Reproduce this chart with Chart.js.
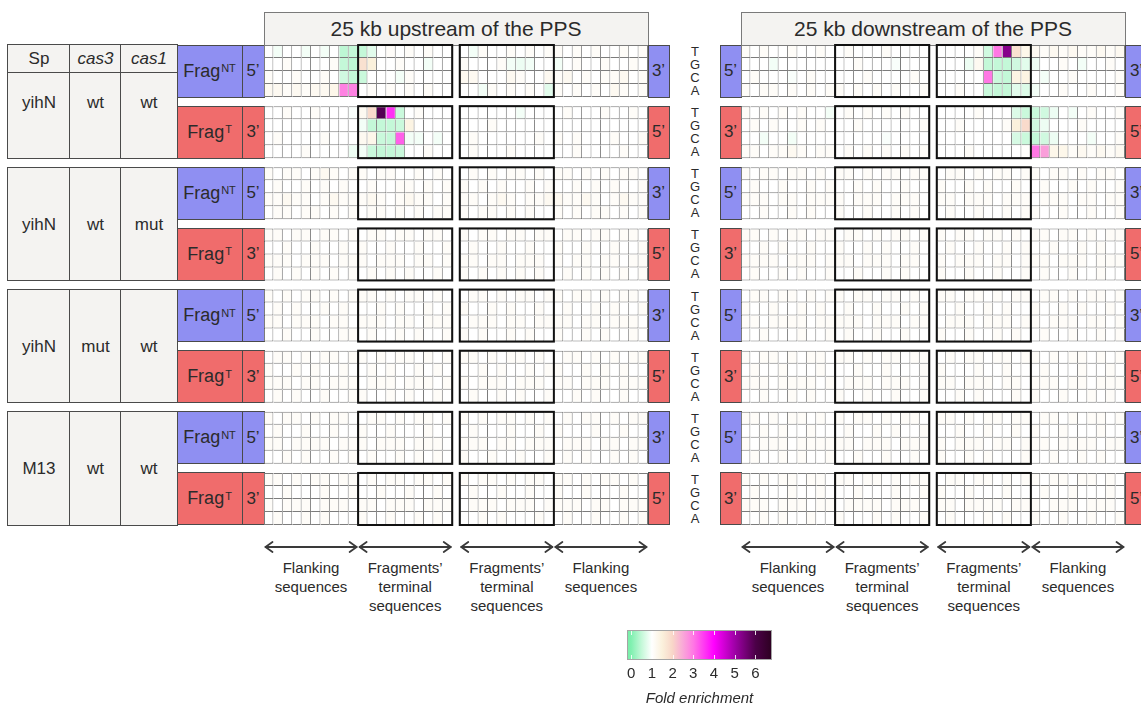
<!DOCTYPE html>
<html>
<head>
<meta charset="utf-8">
<title>Fold enrichment of spacer acquisition around the PPS</title>
<script src="https://cdn.jsdelivr.net/npm/chart.js@4.4.1/dist/chart.umd.min.js"></script>
<style>
  html, body { margin:0; padding:0; background:#fff; }
  body { width:1141px; height:705px; overflow:hidden; position:relative;
         font-family:'Liberation Sans', Arial, Helvetica, sans-serif; color:#2b2b2b; }
  .box { position:absolute; box-sizing:border-box; border-style:solid; border-color:#4a4a4a;
         display:flex; align-items:center; justify-content:center; white-space:nowrap; }
  .tbl { background:#f4f3f1; font-size:17px; }
  .nt { background:#8f8ff2; }
  .tt { background:#f06c6c; }
  .frag { font-size:18px; }
  .frag sup { font-size:11px; position:relative; top:-3px; vertical-align:top; margin-left:1px; }
  .end { font-size:17px; }
  .title { background:#f4f3f1; font-size:21px; border-color:#7a7a7a; }
  .txt { position:absolute; text-align:center; white-space:nowrap; }
  .nuc { font-size:13px; line-height:13px; width:16px; }
  .lab { font-size:15px; line-height:19px; }
  canvas { position:absolute; }
</style>
</head>
<body>
<div id="deco"></div>
<svg id="arrows" width="1141" height="705" style="position:absolute;left:0;top:0"></svg>
<canvas id="up" width="392" height="488" style="left:260px;top:41px"></canvas>
<canvas id="down" width="392" height="488" style="left:737px;top:41px"></canvas>
<canvas id="bar" width="175" height="80" style="left:612px;top:628px"></canvas>
<script>
// ---- labels ----
const panelTitles = ['25 kb upstream of the PPS', '25 kb downstream of the PPS'];
const nucleotides = ['T', 'G', 'C', 'A'];
const spLabels = ['yihN', 'yihN', 'yihN', 'M13'];
const cas3Labels = ['wt', 'wt', 'mut', 'wt'];
const cas1Labels = ['wt', 'mut', 'wt', 'wt'];
const headerLabels = ['Sp', 'cas3', 'cas1'];
const sectionLabels = [['Flanking', 'sequences'], ['Fragments’', 'terminal', 'sequences'],
                       ['Fragments’', 'terminal', 'sequences'], ['Flanking', 'sequences']];
const foldTicks = [0, 1, 2, 3, 4, 5, 6];

// ---- fold enrichment, 4 rows (T,G,C,A) x 40 positions per block ----
// positions 0-9 flanking, 10-19 and 20-29 fragment termini, 30-39 flanking
const up_yihN_wt_wt_NT = [
  [1.0,0.9,1.0,1.0,0.9,1.0,0.9,1.0,0.45,0.5, 0.5,0.75,1.0,1.1,1.0,1.1,1.0,1.1,1.0,1.0, 1.0,0.9,1.1,1.0,1.0,1.1,1.0,1.1,1.0,1.1, 1.1,1.0,1.1,1.0,1.1,1.0,1.0,1.1,1.0,1.1],
  [1.0,1.0,1.1,1.0,1.0,1.0,1.0,1.1,0.5,0.45, 1.8,1.5,1.0,1.0,1.1,1.0,1.0,0.9,1.0,1.0, 1.1,1.0,1.0,1.0,1.1,0.9,0.85,0.9,1.0,1.0, 0.9,1.0,1.1,1.0,1.0,1.1,1.0,1.0,1.1,1.0],
  [1.1,1.0,1.0,1.1,1.0,1.0,1.1,1.0,0.6,0.5, 0.55,1.0,1.0,1.0,0.9,1.1,1.0,1.0,1.0,1.0, 1.2,1.2,1.0,1.0,1.0,1.2,1.1,1.0,1.0,1.2, 1.1,1.2,1.0,1.1,1.0,1.1,1.1,1.2,1.0,1.1],
  [1.2,1.2,1.1,1.2,1.1,1.2,1.2,1.3,2.9,2.9, 1.0,1.1,1.0,1.1,1.0,1.1,1.0,1.1,1.0,1.0, 1.0,1.0,0.9,1.1,1.0,1.1,1.0,1.1,1.0,0.75, 1.1,1.0,1.1,1.0,1.1,1.0,1.2,1.1,1.0,1.1]
];
const up_yihN_wt_wt_T = [
  [1.0,1.0,1.1,1.0,1.0,1.1,1.0,1.0,1.0,0.95, 1.2,1.9,5.9,3.6,0.55,1.0,1.1,1.0,1.0,1.0, 1.0,1.0,1.0,1.0,1.0,1.0,0.9,1.0,1.0,1.0, 1.0,1.1,1.0,1.0,1.0,1.1,1.0,1.0,1.1,1.0],
  [1.0,1.0,1.0,1.0,1.0,1.0,1.0,1.0,1.0,1.0, 0.9,0.5,0.5,0.5,0.55,1.4,1.0,1.0,1.0,1.0, 1.0,1.0,1.0,1.1,1.0,1.0,1.0,1.0,1.0,1.0, 1.0,1.0,1.0,1.0,1.0,1.0,1.0,1.0,1.0,1.0],
  [1.0,1.1,1.0,1.0,1.0,1.0,1.1,1.0,1.0,1.0, 1.2,1.3,0.55,0.5,3.2,0.9,0.9,1.0,0.9,1.0, 1.0,1.1,1.0,1.0,1.0,1.0,1.0,1.0,1.1,1.0, 1.1,1.0,1.1,1.0,1.0,1.0,1.1,1.0,1.0,1.1],
  [1.0,1.0,1.0,1.0,1.1,1.0,1.0,1.0,1.0,0.85, 0.9,0.55,0.5,0.5,0.55,1.0,1.0,1.1,1.0,1.0, 1.0,1.1,1.0,1.0,1.0,1.1,1.0,1.0,1.0,1.0, 1.0,1.0,1.1,1.0,1.0,1.0,1.0,1.1,1.0,1.0]
];
const up_yihN_wt_mut_NT = [
  [1.1,1.0,1.1,1.1,1.0,1.1,1.2,1.1,1.0,1.1, 1.1,1.0,1.1,1.1,1.0,1.0,1.1,1.0,1.1,1.0, 1.0,1.1,1.0,1.1,1.0,1.1,1.1,1.0,1.1,1.0, 1.1,1.1,1.0,1.1,1.0,1.1,1.0,1.1,1.1,1.0],
  [1.0,1.1,1.0,1.0,1.1,1.0,1.1,1.0,1.1,1.0, 1.0,1.1,1.0,1.0,1.1,1.1,1.0,1.1,1.0,1.1, 1.1,1.0,1.1,1.0,1.1,1.0,1.0,1.1,1.0,1.1, 1.0,1.0,1.1,1.0,1.1,1.0,1.1,1.0,1.0,1.1],
  [1.1,1.1,1.2,1.1,1.1,1.0,1.1,1.2,1.1,1.1, 1.1,1.2,1.1,1.0,1.1,1.2,1.1,1.1,1.0,1.1, 1.1,1.1,1.0,1.1,1.2,1.1,1.0,1.1,1.1,1.2, 1.2,1.1,1.1,1.2,1.1,1.0,1.1,1.2,1.1,1.1],
  [1.0,1.1,1.1,1.0,1.1,1.1,1.0,1.1,1.0,1.1, 1.0,1.1,1.1,1.0,1.1,1.0,1.1,1.0,1.1,1.1, 1.1,1.0,1.1,1.1,1.0,1.1,1.0,1.1,1.0,1.0, 1.1,1.0,1.1,1.0,1.1,1.1,1.0,1.1,1.0,1.1]
];
const up_yihN_wt_mut_T = [
  [1.1,1.1,1.0,1.1,1.1,1.0,1.1,1.1,1.0,1.1, 1.0,1.1,1.1,1.0,1.1,1.1,1.0,1.1,1.1,1.0, 1.1,1.0,1.1,1.1,1.0,1.1,1.1,1.0,1.1,1.1, 1.0,1.1,1.1,1.0,1.1,1.1,1.0,1.1,1.1,1.0],
  [1.0,1.0,1.1,1.0,1.0,1.1,1.0,1.0,1.1,1.0, 1.1,1.0,1.0,1.1,1.0,1.0,1.1,1.0,1.0,1.1, 1.0,1.1,1.0,1.0,1.1,1.0,1.0,1.1,1.0,1.0, 1.1,1.0,1.0,1.1,1.0,1.0,1.1,1.0,1.0,1.1],
  [1.1,1.1,1.1,1.0,1.1,1.1,1.1,1.0,1.1,1.1, 1.1,1.0,1.1,1.1,1.1,1.0,1.1,1.1,1.0,1.1, 1.1,1.1,1.0,1.1,1.1,1.0,1.1,1.1,1.1,1.0, 1.1,1.0,1.1,1.1,1.0,1.1,1.1,1.0,1.1,1.1],
  [1.0,1.1,1.0,1.1,1.0,1.1,1.0,1.1,1.0,1.1, 1.0,1.1,1.0,1.1,1.0,1.1,1.0,1.0,1.1,1.0, 1.1,1.0,1.1,1.0,1.1,1.0,1.1,1.0,1.1,1.0, 1.0,1.1,1.0,1.1,1.0,1.1,1.0,1.1,1.0,1.1]
];
const up_yihN_mut_wt_NT = [
  [1.1,1.0,1.1,1.0,1.1,1.1,1.0,1.1,1.0,1.1, 1.1,1.1,1.0,1.1,1.0,1.1,1.1,1.0,1.1,1.0, 1.0,1.1,1.1,1.0,1.1,1.0,1.1,1.1,1.0,1.1, 1.1,1.0,1.1,1.1,1.0,1.1,1.0,1.1,1.1,1.0],
  [1.0,1.1,1.0,1.1,1.0,1.0,1.1,1.0,1.1,1.0, 1.0,1.0,1.1,1.0,1.1,1.0,1.0,1.1,1.0,1.1, 1.1,1.0,1.0,1.1,1.0,1.1,1.0,1.0,1.1,1.0, 1.0,1.1,1.0,1.0,1.1,1.0,1.1,1.0,1.0,1.1],
  [1.1,1.1,1.0,1.1,1.1,1.1,1.0,1.1,1.1,1.0, 1.1,1.1,1.1,1.0,1.1,1.1,1.0,1.1,1.1,1.1, 1.0,1.1,1.1,1.1,1.0,1.1,1.1,1.0,1.1,1.1, 1.1,1.1,1.0,1.1,1.1,1.0,1.1,1.1,1.1,1.0],
  [1.0,1.0,1.1,1.0,1.0,1.1,1.0,1.0,1.1,1.1, 1.0,1.1,1.0,1.0,1.1,1.0,1.1,1.0,1.0,1.1, 1.1,1.0,1.1,1.0,1.0,1.1,1.0,1.1,1.0,1.0, 1.1,1.0,1.0,1.1,1.0,1.1,1.0,1.0,1.1,1.0]
];
const up_yihN_mut_wt_T = [
  [1.0,1.1,1.1,1.0,1.1,1.0,1.1,1.1,1.0,1.1, 1.1,1.0,1.1,1.0,1.1,1.1,1.0,1.1,1.0,1.1, 1.1,1.1,1.0,1.1,1.0,1.1,1.1,1.0,1.1,1.0, 1.0,1.1,1.1,1.0,1.1,1.0,1.1,1.0,1.1,1.1],
  [1.1,1.0,1.0,1.1,1.0,1.1,1.0,1.0,1.1,1.0, 1.0,1.1,1.0,1.1,1.0,1.0,1.1,1.0,1.1,1.0, 1.0,1.0,1.1,1.0,1.1,1.0,1.0,1.1,1.0,1.1, 1.1,1.0,1.0,1.1,1.0,1.1,1.0,1.1,1.0,1.0],
  [1.1,1.1,1.1,1.0,1.1,1.1,1.0,1.1,1.1,1.1, 1.0,1.1,1.1,1.1,1.0,1.1,1.1,1.1,1.0,1.1, 1.1,1.0,1.1,1.1,1.1,1.0,1.1,1.1,1.1,1.0, 1.1,1.1,1.0,1.1,1.1,1.1,1.0,1.1,1.1,1.1],
  [1.0,1.1,1.0,1.1,1.0,1.0,1.1,1.0,1.0,1.1, 1.1,1.0,1.0,1.1,1.0,1.1,1.0,1.0,1.1,1.0, 1.0,1.1,1.0,1.0,1.1,1.0,1.1,1.0,1.0,1.1, 1.0,1.0,1.1,1.0,1.1,1.0,1.0,1.1,1.0,1.0]
];
const up_M13_wt_wt_NT = [
  [1.1,1.0,1.1,1.1,1.0,1.1,1.0,1.1,1.1,1.0, 1.0,1.1,1.1,1.0,1.1,1.0,1.1,1.1,1.0,1.1, 1.1,1.0,1.1,1.0,1.1,1.1,1.0,1.1,1.0,1.1, 1.0,1.1,1.0,1.1,1.1,1.0,1.1,1.0,1.1,1.1],
  [1.0,1.1,1.0,1.0,1.1,1.0,1.0,1.1,1.0,1.0, 1.1,1.0,1.0,1.1,1.0,1.0,1.0,1.1,1.0,1.0, 1.0,1.1,1.0,1.0,1.0,1.1,1.0,1.0,1.1,1.0, 1.1,1.0,1.0,1.0,1.1,1.0,1.0,1.1,1.0,1.0],
  [1.1,1.1,1.0,1.1,1.1,1.1,1.1,1.0,1.1,1.1, 1.1,1.0,1.1,1.1,1.1,1.0,1.1,1.1,1.1,1.0, 1.1,1.1,1.1,1.0,1.1,1.1,1.0,1.1,1.1,1.1, 1.0,1.1,1.1,1.1,1.0,1.1,1.1,1.0,1.1,1.1],
  [1.0,1.0,1.1,1.0,1.1,1.0,1.0,1.1,1.0,1.1, 1.0,1.1,1.0,1.0,1.1,1.0,1.1,1.0,1.1,1.0, 1.1,1.0,1.0,1.1,1.0,1.0,1.1,1.0,1.0,1.1, 1.0,1.1,1.0,1.1,1.0,1.0,1.1,1.0,1.1,1.0]
];
const up_M13_wt_wt_T = [
  [1.1,1.1,1.0,1.1,1.0,1.1,1.1,1.0,1.1,1.1, 1.0,1.1,1.0,1.1,1.1,1.0,1.1,1.1,1.0,1.1, 1.1,1.0,1.1,1.1,1.0,1.1,1.0,1.1,1.1,1.0, 1.1,1.1,1.0,1.1,1.0,1.1,1.1,1.0,1.1,1.0],
  [1.0,1.0,1.1,1.0,1.0,1.0,1.1,1.0,1.0,1.1, 1.0,1.0,1.1,1.0,1.0,1.1,1.0,1.0,1.1,1.0, 1.0,1.1,1.0,1.0,1.1,1.0,1.0,1.1,1.0,1.0, 1.1,1.0,1.0,1.1,1.0,1.0,1.0,1.1,1.0,1.0],
  [1.1,1.0,1.1,1.1,1.1,1.0,1.1,1.1,1.1,1.0, 1.1,1.1,1.0,1.1,1.1,1.1,1.0,1.1,1.1,1.1, 1.0,1.1,1.1,1.1,1.0,1.1,1.1,1.1,1.0,1.1, 1.1,1.1,1.1,1.0,1.1,1.1,1.0,1.1,1.1,1.1],
  [1.0,1.1,1.0,1.0,1.1,1.0,1.1,1.0,1.0,1.0, 1.1,1.0,1.0,1.1,1.0,1.0,1.1,1.0,1.1,1.0, 1.0,1.0,1.1,1.0,1.1,1.0,1.0,1.0,1.1,1.0, 1.0,1.1,1.0,1.0,1.1,1.0,1.0,1.1,1.0,1.1]
];

const dn_yihN_wt_wt_NT = [
  [1.1,1.0,1.1,1.0,1.0,1.1,1.0,1.0,1.1,1.0, 1.0,1.1,1.0,1.0,1.0,1.1,1.0,1.0,1.0,1.0, 1.0,1.0,1.0,1.0,1.1,0.6,3.0,5.3,1.8,1.3, 1.2,1.1,1.2,1.1,1.2,1.1,1.1,1.2,1.1,1.2],
  [1.0,1.0,1.0,0.9,1.0,1.0,1.0,1.0,1.0,1.0, 1.0,1.0,1.1,1.0,1.0,1.0,0.95,1.0,1.0,1.0, 1.0,1.0,1.0,0.85,1.2,0.5,0.5,0.5,0.6,0.75, 0.85,1.0,1.0,1.1,1.0,0.9,1.0,1.0,1.1,1.0],
  [1.0,1.1,1.0,1.0,1.0,0.95,1.0,1.1,1.0,1.0, 1.0,1.0,1.0,1.1,1.0,1.0,1.0,1.0,1.1,1.0, 1.0,1.0,1.0,1.0,1.0,3.0,0.55,0.5,1.4,1.4, 1.0,0.9,1.0,1.0,1.1,1.0,1.0,1.0,1.0,1.1],
  [1.1,1.0,1.1,1.1,1.0,1.1,1.0,1.1,1.0,1.1, 1.1,1.0,1.1,1.0,1.1,1.0,1.1,1.0,1.0,1.1, 1.0,1.0,1.1,1.0,1.0,0.55,0.5,0.5,0.75,0.7, 0.9,1.0,1.0,1.1,1.0,1.0,1.1,1.0,1.0,1.1]
];
const dn_yihN_wt_wt_T = [
  [1.1,1.0,1.1,1.0,1.1,1.0,1.1,1.0,1.0,0.9, 1.0,1.1,1.0,1.1,1.0,1.1,1.0,1.1,1.0,1.0, 1.0,1.0,1.0,1.0,1.1,1.0,1.0,1.0,0.7,0.55, 0.55,0.6,0.85,1.0,0.9,1.0,1.1,1.0,1.0,1.1],
  [1.0,1.1,1.0,1.1,1.0,1.0,1.1,1.0,1.1,1.0, 1.0,1.0,1.1,1.0,1.0,1.0,1.0,1.0,1.0,1.1, 1.0,1.0,1.1,1.0,1.0,1.0,1.0,1.1,1.5,1.9, 0.6,0.85,1.0,1.0,1.0,1.1,1.0,1.0,1.0,1.0],
  [1.0,1.0,0.9,1.0,1.0,0.9,1.0,1.0,1.0,1.0, 1.0,1.0,1.0,1.0,1.0,0.95,1.0,1.0,1.0,1.0, 1.0,1.0,1.0,1.0,1.0,1.0,1.0,1.0,0.65,0.55, 0.5,0.6,0.85,1.0,1.0,1.0,0.9,1.0,1.0,1.1],
  [1.1,1.1,1.0,1.1,1.1,1.2,1.1,1.0,1.1,1.1, 1.0,1.1,1.0,1.1,1.0,1.1,1.0,1.1,1.0,1.1, 1.0,1.0,1.0,1.1,1.0,1.0,1.0,1.0,1.0,1.05, 3.0,2.6,1.3,1.3,1.1,1.2,1.1,1.2,1.1,1.2]
];
const dn_yihN_wt_mut_NT = [
  [1.1,1.0,1.1,1.1,1.0,1.1,1.1,1.0,1.1,1.0, 1.1,1.1,1.0,1.1,1.0,1.1,1.1,1.0,1.1,1.1, 1.0,1.1,1.1,1.0,1.1,1.0,1.1,1.1,1.0,1.1, 1.1,1.0,1.1,1.1,1.0,1.1,1.0,1.1,1.1,1.0],
  [1.0,1.1,1.0,1.0,1.1,1.0,1.0,1.1,1.0,1.1, 1.0,1.0,1.1,1.0,1.1,1.0,1.0,1.1,1.0,1.0, 1.1,1.0,1.0,1.1,1.0,1.1,1.0,1.0,1.1,1.0, 1.0,1.1,1.0,1.0,1.1,1.0,1.1,1.0,1.0,1.1],
  [1.1,1.1,1.1,1.0,1.1,1.1,1.0,1.1,1.1,1.1, 1.1,1.0,1.1,1.1,1.1,1.0,1.1,1.1,1.1,1.0, 1.1,1.1,1.0,1.1,1.1,1.1,1.0,1.1,1.1,1.1, 1.0,1.1,1.1,1.1,1.0,1.1,1.1,1.0,1.1,1.1],
  [1.0,1.0,1.1,1.0,1.0,1.1,1.0,1.1,1.0,1.0, 1.1,1.0,1.0,1.1,1.0,1.0,1.1,1.0,1.1,1.0, 1.0,1.1,1.0,1.0,1.1,1.0,1.0,1.1,1.0,1.1, 1.1,1.0,1.0,1.1,1.0,1.0,1.1,1.0,1.0,1.1]
];
const dn_yihN_wt_mut_T = [
  [1.1,1.1,1.0,1.1,1.0,1.1,1.1,1.0,1.1,1.1, 1.0,1.1,1.1,1.0,1.1,1.0,1.1,1.1,1.0,1.1, 1.1,1.0,1.1,1.1,1.0,1.1,1.1,1.0,1.1,1.0, 1.1,1.1,1.0,1.1,1.1,1.0,1.1,1.0,1.1,1.1],
  [1.0,1.0,1.1,1.0,1.1,1.0,1.0,1.1,1.0,1.0, 1.1,1.0,1.0,1.1,1.0,1.1,1.0,1.0,1.1,1.0, 1.0,1.1,1.0,1.0,1.1,1.0,1.0,1.1,1.0,1.1, 1.0,1.0,1.1,1.0,1.0,1.1,1.0,1.1,1.0,1.0],
  [1.1,1.1,1.1,1.1,1.0,1.1,1.1,1.1,1.0,1.1, 1.1,1.1,1.0,1.1,1.1,1.1,1.0,1.1,1.1,1.0, 1.1,1.0,1.1,1.1,1.1,1.0,1.1,1.1,1.0,1.1, 1.1,1.1,1.0,1.1,1.1,1.1,1.0,1.1,1.1,1.1],
  [1.0,1.1,1.0,1.0,1.1,1.0,1.1,1.0,1.0,1.1, 1.0,1.0,1.1,1.0,1.0,1.1,1.0,1.1,1.0,1.0, 1.1,1.0,1.0,1.1,1.0,1.0,1.1,1.0,1.0,1.1, 1.0,1.1,1.0,1.0,1.1,1.0,1.0,1.1,1.0,1.0]
];
const dn_yihN_mut_wt_NT = [
  [1.0,1.1,1.1,1.0,1.1,1.1,1.0,1.1,1.0,1.1, 1.1,1.0,1.1,1.1,1.0,1.1,1.1,1.0,1.1,1.0, 1.1,1.1,1.0,1.1,1.1,1.0,1.1,1.0,1.1,1.1, 1.0,1.1,1.1,1.0,1.1,1.0,1.1,1.1,1.0,1.1],
  [1.1,1.0,1.0,1.1,1.0,1.0,1.1,1.0,1.1,1.0, 1.0,1.1,1.0,1.0,1.1,1.0,1.0,1.1,1.0,1.1, 1.0,1.0,1.1,1.0,1.0,1.1,1.0,1.1,1.0,1.0, 1.1,1.0,1.0,1.1,1.0,1.1,1.0,1.0,1.1,1.0],
  [1.1,1.1,1.0,1.1,1.1,1.1,1.1,1.0,1.1,1.1, 1.1,1.1,1.1,1.0,1.1,1.1,1.1,1.0,1.1,1.1, 1.0,1.1,1.1,1.1,1.0,1.1,1.1,1.1,1.0,1.1, 1.1,1.0,1.1,1.1,1.1,1.0,1.1,1.1,1.0,1.1],
  [1.0,1.0,1.1,1.0,1.0,1.0,1.1,1.0,1.0,1.1, 1.0,1.1,1.0,1.0,1.1,1.0,1.0,1.1,1.0,1.0, 1.1,1.0,1.0,1.1,1.0,1.0,1.1,1.0,1.1,1.0, 1.0,1.1,1.0,1.0,1.1,1.0,1.0,1.1,1.0,1.1]
];
const dn_yihN_mut_wt_T = [
  [1.1,1.0,1.1,1.1,1.0,1.1,1.0,1.1,1.1,1.0, 1.1,1.1,1.0,1.1,1.0,1.1,1.1,1.0,1.1,1.1, 1.0,1.1,1.0,1.1,1.1,1.0,1.1,1.1,1.0,1.1, 1.1,1.0,1.1,1.0,1.1,1.1,1.0,1.1,1.0,1.1],
  [1.0,1.1,1.0,1.0,1.1,1.0,1.0,1.0,1.1,1.0, 1.0,1.0,1.1,1.0,1.0,1.1,1.0,1.0,1.0,1.1, 1.1,1.0,1.0,1.0,1.1,1.0,1.0,1.1,1.0,1.0, 1.0,1.1,1.0,1.0,1.0,1.1,1.0,1.0,1.1,1.0],
  [1.1,1.1,1.1,1.0,1.1,1.1,1.1,1.1,1.0,1.1, 1.0,1.1,1.1,1.1,1.0,1.1,1.1,1.1,1.0,1.1, 1.1,1.1,1.0,1.1,1.1,1.1,1.0,1.1,1.1,1.0, 1.1,1.1,1.1,1.0,1.1,1.1,1.0,1.1,1.1,1.1],
  [1.0,1.0,1.1,1.0,1.0,1.1,1.0,1.1,1.0,1.0, 1.1,1.0,1.0,1.1,1.0,1.0,1.1,1.0,1.0,1.1, 1.0,1.0,1.1,1.0,1.1,1.0,1.0,1.0,1.1,1.0, 1.1,1.0,1.0,1.1,1.0,1.0,1.1,1.0,1.1,1.0]
];
const dn_M13_wt_wt_NT = [
  [1.1,1.1,1.0,1.1,1.0,1.1,1.1,1.0,1.1,1.0, 1.1,1.0,1.1,1.1,1.0,1.1,1.0,1.1,1.1,1.0, 1.1,1.1,1.0,1.1,1.0,1.1,1.1,1.0,1.1,1.1, 1.0,1.1,1.1,1.0,1.1,1.0,1.1,1.1,1.0,1.1],
  [1.0,1.0,1.1,1.0,1.1,1.0,1.0,1.1,1.0,1.0, 1.0,1.1,1.0,1.0,1.1,1.0,1.1,1.0,1.0,1.1, 1.0,1.0,1.1,1.0,1.0,1.1,1.0,1.0,1.1,1.0, 1.1,1.0,1.0,1.1,1.0,1.0,1.0,1.1,1.0,1.0],
  [1.1,1.0,1.1,1.1,1.1,1.0,1.1,1.1,1.1,1.1, 1.1,1.1,1.0,1.1,1.1,1.1,1.0,1.1,1.1,1.1, 1.1,1.0,1.1,1.1,1.1,1.0,1.1,1.1,1.0,1.1, 1.1,1.1,1.0,1.1,1.1,1.1,1.1,1.0,1.1,1.1],
  [1.0,1.1,1.0,1.0,1.1,1.0,1.1,1.0,1.0,1.1, 1.0,1.0,1.1,1.0,1.0,1.1,1.0,1.0,1.1,1.0, 1.1,1.0,1.0,1.1,1.0,1.1,1.0,1.0,1.0,1.1, 1.0,1.0,1.1,1.0,1.0,1.1,1.0,1.1,1.0,1.0]
];
const dn_M13_wt_wt_T = [
  [1.1,1.0,1.1,1.0,1.1,1.1,1.0,1.1,1.1,1.0, 1.1,1.1,1.0,1.1,1.1,1.0,1.1,1.0,1.1,1.1, 1.0,1.1,1.1,1.0,1.1,1.1,1.0,1.1,1.0,1.1, 1.1,1.0,1.1,1.1,1.0,1.1,1.1,1.0,1.1,1.0],
  [1.0,1.1,1.0,1.0,1.0,1.1,1.0,1.0,1.1,1.0, 1.0,1.0,1.1,1.0,1.0,1.0,1.1,1.0,1.0,1.1, 1.1,1.0,1.0,1.1,1.0,1.0,1.0,1.1,1.0,1.0, 1.0,1.1,1.0,1.0,1.1,1.0,1.0,1.0,1.1,1.0],
  [1.1,1.1,1.1,1.0,1.1,1.1,1.1,1.0,1.1,1.1, 1.0,1.1,1.1,1.1,1.1,1.0,1.1,1.1,1.1,1.0, 1.1,1.1,1.0,1.1,1.1,1.1,1.1,1.0,1.1,1.1, 1.1,1.0,1.1,1.1,1.1,1.0,1.1,1.1,1.1,1.0],
  [1.0,1.0,1.1,1.0,1.1,1.0,1.0,1.1,1.0,1.0, 1.1,1.0,1.0,1.0,1.1,1.0,1.1,1.0,1.0,1.1, 1.0,1.1,1.0,1.0,1.0,1.1,1.0,1.1,1.0,1.0, 1.1,1.0,1.0,1.1,1.0,1.0,1.1,1.0,1.0,1.1]
];

const upstreamBlocks = [up_yihN_wt_wt_NT, up_yihN_wt_wt_T, up_yihN_wt_mut_NT, up_yihN_wt_mut_T,
                        up_yihN_mut_wt_NT, up_yihN_mut_wt_T, up_M13_wt_wt_NT, up_M13_wt_wt_T];
const downstreamBlocks = [dn_yihN_wt_wt_NT, dn_yihN_wt_wt_T, dn_yihN_wt_mut_NT, dn_yihN_wt_mut_T,
                          dn_yihN_mut_wt_NT, dn_yihN_mut_wt_T, dn_M13_wt_wt_NT, dn_M13_wt_wt_T];

// ---- colour scale ----
const CBAR_MIN = -0.2, CBAR_MAX = 6.8;
const cmapStops  = [-0.2, 0, 0.5, 1, 1.5, 2, 2.5, 3, 4, 5, 6, 6.8];
const cmapColors = ['#78eea6', '#80f0b0', '#c4f8d8', '#ffffff', '#fbf1dc', '#f8d6c8',
                    '#f9a8d8', '#ff78e4', '#ff00ff', '#a000a8', '#4c0048', '#2c0020'];
function hexToRgb(h) { return [1, 3, 5].map(i => parseInt(h.slice(i, i + 2), 16)); }
function colorFor(v) {
  if (v <= cmapStops[0]) return cmapColors[0];
  for (let i = 1; i < cmapStops.length; i++) {
    if (v <= cmapStops[i]) {
      const t = (v - cmapStops[i - 1]) / (cmapStops[i] - cmapStops[i - 1]);
      const a = hexToRgb(cmapColors[i - 1]), b = hexToRgb(cmapColors[i]);
      return 'rgb(' + a.map((x, k) => Math.round(x + (b[k] - x) * t)).join(',') + ')';
    }
  }
  return cmapColors[cmapColors.length - 1];
}

// ---- layout ----
const FONT = "'Liberation Sans', Arial, sans-serif";
const AREA_TOP = 45, AREA_H = 480, PANEL_W = 384, PAD = 4;
const PANEL_LEFT = [264, 741];
const N_BLOCKS = 8, N_COLS = 40, BLOCK_GAP = 0.7, SECTION_GAP = 0.8;
const Y_UNITS = N_BLOCKS * 4 + (N_BLOCKS - 1) * BLOCK_GAP;
const X_UNITS = N_COLS + SECTION_GAP;
const rowPx = AREA_H / Y_UNITS, colPx = PANEL_W / X_UNITS;
const blockStart = b => b * (4 + BLOCK_GAP);
const colCenter = c => c + 0.5 + (c >= 20 ? SECTION_GAP : 0);
const sectionBounds = [[0, 10], [10, 20], [20 + SECTION_GAP, 30 + SECTION_GAP], [30 + SECTION_GAP, 40 + SECTION_GAP]];
const blockTopPx = b => AREA_TOP + blockStart(b) * rowPx;
const blockHPx = 4 * rowPx;

// ---- heatmap panels ----
const framePlugin = {
  id: 'terminalFrames',
  afterDatasetsDraw(chart) {
    const { ctx, scales: { x, y } } = chart;
    ctx.save();
    ctx.strokeStyle = '#111';
    ctx.lineWidth = 2;
    for (let b = 0; b < N_BLOCKS; b++) {
      [sectionBounds[1], sectionBounds[2]].forEach(([s, e]) => {
        const x0 = x.getPixelForValue(s), x1 = x.getPixelForValue(e);
        const y0 = y.getPixelForValue(blockStart(b)), y1 = y.getPixelForValue(blockStart(b) + 4);
        ctx.strokeRect(x0, y0, x1 - x0, y1 - y0);
      });
    }
    ctx.restore();
  }
};

function buildPanel(canvasId, blocks) {
  const datasets = [];
  blocks.forEach((block, b) => {
    block.forEach((row, r) => {
      datasets.push({
        label: 'block ' + b + ' ' + nucleotides[r],
        data: row.map((v, c) => ({ x: colCenter(c), y: [blockStart(b) + r, blockStart(b) + r + 1] })),
        backgroundColor: row.map(colorFor),
        borderColor: '#7c7c7c',
        borderWidth: ctx => ({
          top: r === 0 ? 1 : 0,
          left: (ctx.dataIndex === 0 || ctx.dataIndex === 20) ? 1 : 0,
          right: 1,
          bottom: 1
        })
      });
    });
  });
  return new Chart(document.getElementById(canvasId), {
    type: 'bar',
    data: { datasets },
    options: {
      responsive: false, animation: false, devicePixelRatio: 1, events: [],
      layout: { padding: PAD },
      datasets: { bar: { grouped: false, categoryPercentage: 1, barPercentage: 1, borderSkipped: false, inflateAmount: 0 } },
      scales: {
        x: { type: 'linear', min: 0, max: X_UNITS, offset: false, display: false,
             grid: { offset: false }, ticks: { stepSize: 1, includeBounds: false } },
        y: { type: 'linear', min: 0, max: Y_UNITS, reverse: true, offset: false, display: false }
      },
      plugins: { legend: { display: false }, tooltip: { enabled: false } }
    },
    plugins: [framePlugin]
  });
}
buildPanel('up', upstreamBlocks);
buildPanel('down', downstreamBlocks);

// ---- colour bar ----
const cbarTicksPlugin = {
  id: 'cbarTicks',
  afterDatasetsDraw(chart) {
    const { ctx, chartArea: a, scales: { x } } = chart;
    ctx.save();
    ctx.strokeStyle = 'rgba(255,255,255,0.85)';
    ctx.lineWidth = 1;
    foldTicks.forEach(v => {
      const px = Math.round(x.getPixelForValue(v)) + 0.5;
      ctx.beginPath();
      ctx.moveTo(px, a.top + 1); ctx.lineTo(px, a.top + 5);
      ctx.moveTo(px, a.bottom - 5); ctx.lineTo(px, a.bottom - 1);
      ctx.stroke();
    });
    ctx.restore();
  }
};
new Chart(document.getElementById('bar'), {
  type: 'bar',
  data: {
    labels: ['Fold enrichment'],
    datasets: [{
      data: [[CBAR_MIN, CBAR_MAX]],
      backgroundColor: ctx => {
        const { chart } = ctx;
        const a = chart.chartArea;
        if (!a) return '#fff';
        const g = chart.ctx.createLinearGradient(a.left, 0, a.right, 0);
        cmapStops.forEach((s, i) => g.addColorStop((s - CBAR_MIN) / (CBAR_MAX - CBAR_MIN), cmapColors[i]));
        return g;
      },
      borderColor: '#a5a5a5', borderWidth: 1, borderSkipped: false, inflateAmount: 0,
      barPercentage: 1, categoryPercentage: 1
    }]
  },
  options: {
    indexAxis: 'y', responsive: false, animation: false, devicePixelRatio: 1, events: [],
    layout: { padding: { left: 15, right: 15, top: 2, bottom: 0 } },
    scales: {
      x: {
        type: 'linear', min: CBAR_MIN, max: CBAR_MAX,
        afterBuildTicks: axis => { axis.ticks = foldTicks.map(v => ({ value: v })); },
        grid: { display: false, drawTicks: false }, border: { display: false },
        ticks: { padding: 5, color: '#2b2b2b', font: { size: 15, family: FONT } }
      },
      y: { display: false }
    },
    plugins: {
      legend: { display: false }, tooltip: { enabled: false },
      title: { display: true, position: 'bottom', text: 'Fold enrichment', color: '#2b2b2b',
               font: { size: 15, style: 'italic', weight: 'normal', family: FONT },
               padding: { top: 2, bottom: 0 } }
    }
  },
  plugins: [cbarTicksPlugin]
});

// ---- table, strand boxes, titles ----
const deco = document.getElementById('deco');
function box(x0, y0, x1, y1, cls, html, bw) {
  const d = document.createElement('div');
  d.className = 'box ' + cls;
  d.style.borderWidth = bw + 'px';
  d.style.left = (x0 - bw / 2) + 'px';
  d.style.top = (y0 - bw / 2) + 'px';
  d.style.width = (x1 - x0 + bw) + 'px';
  d.style.height = (y1 - y0 + bw) + 'px';
  if (html) d.innerHTML = html;
  deco.appendChild(d);
  return d;
}
function text(cx, cy, w, h, cls, html) {
  const d = document.createElement('div');
  d.className = 'txt ' + cls;
  d.style.left = (cx - w / 2) + 'px';
  d.style.top = (cy - h / 2) + 'px';
  d.style.width = w + 'px';
  d.style.height = h + 'px';
  d.style.lineHeight = h + 'px';
  d.innerHTML = html;
  deco.appendChild(d);
  return d;
}

panelTitles.forEach((t, i) => box(PANEL_LEFT[i], 12, PANEL_LEFT[i] + PANEL_W, AREA_TOP, 'title', t, 1));

const tableCols = [[8, 70], [70, 121], [121, 177]];
const HEADER_BOTTOM = 73;
headerLabels.forEach((h, i) => {
  box(tableCols[i][0], AREA_TOP, tableCols[i][1], HEADER_BOTTOM, 'tbl',
      i === 0 ? h : '<i>' + h + '</i>', 1.5);
});
for (let g = 0; g < 4; g++) {
  const top = blockTopPx(2 * g), bottom = blockTopPx(2 * g + 1) + blockHPx;
  const bodyTop = g === 0 ? HEADER_BOTTOM : top;
  const labels = [spLabels[g], cas3Labels[g], cas1Labels[g]];
  tableCols.forEach(([x0, x1], i) => {
    box(x0, bodyTop, x1, bottom, 'tbl', '', 1.5);
    text((x0 + x1) / 2, (top + bottom) / 2 + 1, x1 - x0, 22, 'tbl-t', labels[i]).style.fontSize = '17px';
  });
}

for (let b = 0; b < N_BLOCKS; b++) {
  const nt = b % 2 === 0;
  const cls = nt ? 'nt' : 'tt';
  const y0 = blockTopPx(b), y1 = y0 + blockHPx;
  const leftEnd = nt ? '5’' : '3’', rightEnd = nt ? '3’' : '5’';
  box(177, y0, 242, y1, cls + ' frag', 'Frag<sup>' + (nt ? 'NT' : 'T') + '</sup>', 1);
  box(242, y0, 264, y1, cls + ' end', leftEnd, 1);
  box(648, y0, 669, y1, cls + ' end', rightEnd, 1);
  box(720, y0, 741, y1, cls + ' end', leftEnd, 1);
  box(1125, y0, 1148, y1, cls + ' end', rightEnd, 1);
  nucleotides.forEach((n, r) => text(695, y0 + (r + 0.5) * rowPx, 16, 13, 'nuc', n));
}

// ---- section arrows and labels ----
const svg = document.getElementById('arrows');
const NS = 'http://www.w3.org/2000/svg';
function svgEl(tag, attrs) {
  const e = document.createElementNS(NS, tag);
  Object.entries(attrs).forEach(([k, v]) => e.setAttribute(k, v));
  svg.appendChild(e);
}
const ARROW_Y = 547;
PANEL_LEFT.forEach(left => {
  sectionBounds.forEach(([s, e], i) => {
    const x0 = left + s * colPx + 1.5, x1 = left + e * colPx - 1.5;
    const style = { stroke: '#3a3a3a', 'stroke-width': 1.8, fill: 'none', 'stroke-linecap': 'round', 'stroke-linejoin': 'round' };
    svgEl('line', Object.assign({ x1: x0, y1: ARROW_Y, x2: x1, y2: ARROW_Y }, style));
    svgEl('polyline', Object.assign({ points: `${x0 + 7},${ARROW_Y - 5} ${x0},${ARROW_Y} ${x0 + 7},${ARROW_Y + 5}` }, style));
    svgEl('polyline', Object.assign({ points: `${x1 - 7},${ARROW_Y - 5} ${x1},${ARROW_Y} ${x1 - 7},${ARROW_Y + 5}` }, style));
    const cx = left + (s + e) / 2 * colPx;
    sectionLabels[i].forEach((line, k) => text(cx, 567 + k * 19, 110, 19, 'lab', line));
  });
});
</script>
</body>
</html>
